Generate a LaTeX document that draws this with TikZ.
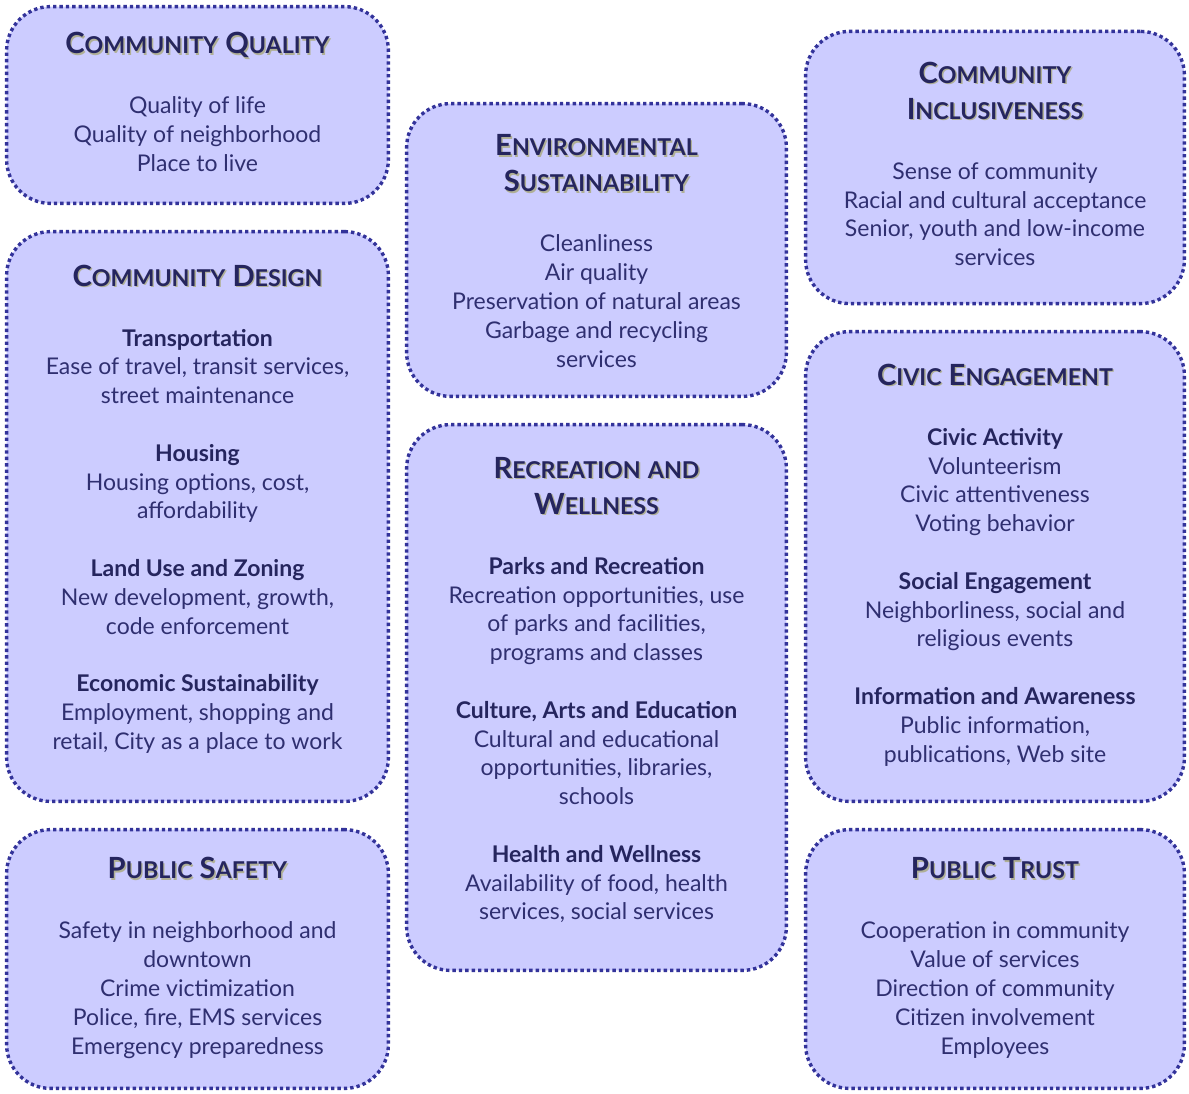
\documentclass[tikz,border=0pt]{standalone}
\usepackage{fontspec}
\setmainfont{Lato}
\usetikzlibrary{positioning}

\definecolor{panelfill}{HTML}{CCCCFF}
\definecolor{paneldots}{HTML}{33339A}
\definecolor{paneltext}{HTML}{2F2F70}
\definecolor{titleink}{HTML}{25255E}
\definecolor{titleshade}{HTML}{B0B096}

\newcommand{\capsc}[2]{#1{\fontsize{11.6}{12}\selectfont #2}}
\newcommand{\paneltitle}[1]{{\fontsize{14.6}{18}\selectfont\bfseries
  \makebox[0pt][l]{\kern0.7pt\raisebox{-0.7pt}{\color{titleshade}#1}}{\color{titleink}#1}}}
\newcommand{\head}[1]{{\bfseries\color{titleink}#1}}

\begin{document}
\begin{tikzpicture}[x=0.5pt, y=-0.5pt,
  panel/.style={draw=paneldots, fill=panelfill, line width=1.7pt,
    dash pattern=on 1.7pt off 1.5pt, rounded corners=22pt},
  words/.style={align=center, text=paneltext,
    font=\fontsize{11.5}{14.4}\selectfont, inner sep=0pt}]
  \useasboundingbox (0,0) rectangle (1189,1093);

  % left column
  \node [panel, minimum width=190.9pt, minimum height=98.4pt] (quality) at (197.5,105) {};
  \node [words] (qualitytxt) at (197.5,102) {%
    \paneltitle{\capsc{C}{OMMUNITY} \capsc{Q}{UALITY}}\\[15.6pt]
    Quality of life\\
    Quality of neighborhood\\
    Place to live};

  \node [panel, minimum width=190.9pt, minimum height=284.9pt] (design) at (197.5,516.5) {};
  \node [words] (designtxt) at (197.5,509) {%
    \paneltitle{\capsc{C}{OMMUNITY} \capsc{D}{ESIGN}}\\[15.6pt]
    \head{Transportation}\\
    Ease of travel, transit services,\\
    street maintenance\\[14.4pt]
    \head{Housing}\\
    Housing options, cost,\\
    affordability\\[14.4pt]
    \head{Land Use and Zoning}\\
    New development, growth,\\
    code enforcement\\[14.4pt]
    \head{Economic Sustainability}\\
    Employment, shopping and\\
    retail, City as a place to work};

  \node [panel, minimum width=190.9pt, minimum height=129.4pt] (safety) at (197.5,959) {};
  \node [words] (safetytxt) at (197.5,958) {%
    \paneltitle{\capsc{P}{UBLIC} \capsc{S}{AFETY}}\\[15.6pt]
    Safety in neighborhood and\\
    downtown\\
    Crime victimization\\
    Police, fire, EMS services\\
    Emergency preparedness};

  % middle column
  \node [panel, minimum width=189.9pt, minimum height=146.4pt] (environ) at (596.5,250) {};
  \node [words] (environtxt) at (596.5,251) {%
    \paneltitle{\capsc{E}{NVIRONMENTAL}}\\[3.6pt]
    \paneltitle{\capsc{S}{USTAINABILITY}}\\[15.6pt]
    Cleanliness\\
    Air quality\\
    Preservation of natural areas\\
    Garbage and recycling\\
    services};

  \node [panel, minimum width=189.9pt, minimum height=272.9pt] (recreation) at (596.5,697.5) {};
  \node [words] (recreationtxt) at (596.5,690) {%
    \paneltitle{\capsc{R}{ECREATION} \capsc{}{AND}}\\[3.6pt]
    \paneltitle{\capsc{W}{ELLNESS}}\\[15.6pt]
    \head{Parks and Recreation}\\
    Recreation opportunities, use\\
    of parks and facilities,\\
    programs and classes\\[14.4pt]
    \head{Culture, Arts and Education}\\
    Cultural and educational\\
    opportunities, libraries,\\
    schools\\[14.4pt]
    \head{Health and Wellness}\\
    Availability of food, health\\
    services, social services};

  % right column
  \node [panel, minimum width=189.4pt, minimum height=136.1pt] (inclusive) at (995,167.5) {};
  \node [words] (inclusivetxt) at (995,164) {%
    \paneltitle{\capsc{C}{OMMUNITY}}\\[3.6pt]
    \paneltitle{\capsc{I}{NCLUSIVENESS}}\\[15.6pt]
    Sense of community\\
    Racial and cultural acceptance\\
    Senior, youth and low-income\\
    services};

  \node [panel, minimum width=189.4pt, minimum height=234.9pt] (civic) at (995,566.5) {};
  \node [words] (civictxt) at (995,565) {%
    \paneltitle{\capsc{C}{IVIC} \capsc{E}{NGAGEMENT}}\\[15.6pt]
    \head{Civic Activity}\\
    Volunteerism\\
    Civic attentiveness\\
    Voting behavior\\[14.4pt]
    \head{Social Engagement}\\
    Neighborliness, social and\\
    religious events\\[14.4pt]
    \head{Information and Awareness}\\
    Public information,\\
    publications, Web site};

  \node [panel, minimum width=189.4pt, minimum height=129.4pt] (trust) at (995,959) {};
  \node [words] (trusttxt) at (995,958) {%
    \paneltitle{\capsc{P}{UBLIC} \capsc{T}{RUST}}\\[15.6pt]
    Cooperation in community\\
    Value of services\\
    Direction of community\\
    Citizen involvement\\
    Employees};
\end{tikzpicture}
\end{document}
